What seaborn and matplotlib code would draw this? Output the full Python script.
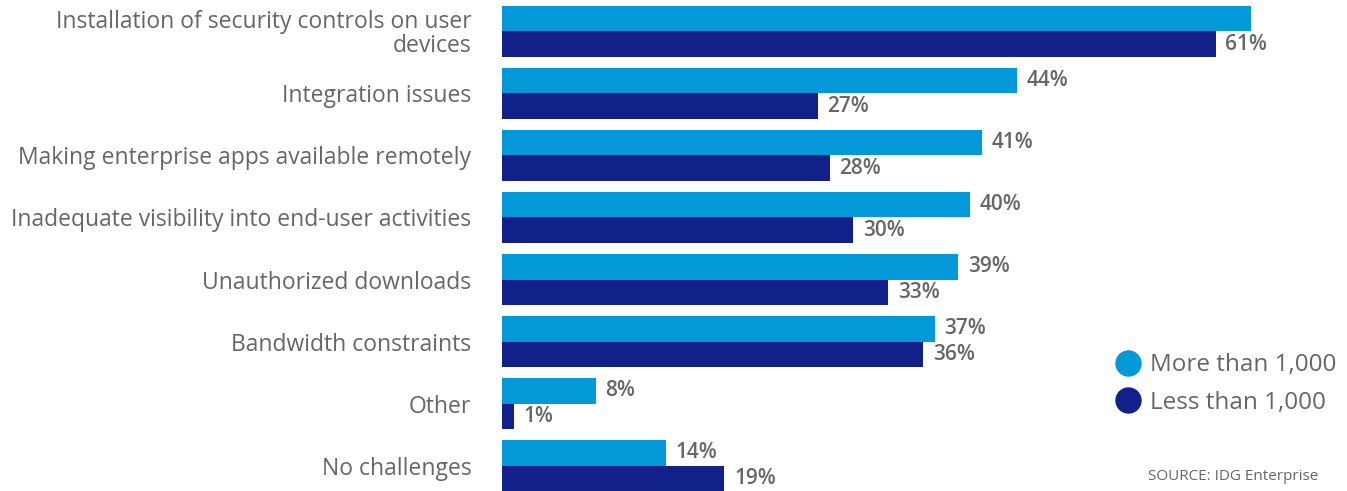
import pandas as pd
import seaborn as sns
import matplotlib.pyplot as plt
from matplotlib.lines import Line2D

# Dados do gráfico
categories = [
    'Installation of security controls on user\ndevices',
    'Integration issues',
    'Making enterprise apps available remotely',
    'Inadequate visibility into end-user activities',
    'Unauthorized downloads',
    'Bandwidth constraints',
    'Other',
    'No challenges',
]
more_than_1000 = [64, 44, 41, 40, 39, 37, 8, 14]
less_than_1000 = [61, 27, 28, 30, 33, 36, 1, 19]
series_names = ['More than 1,000', 'Less than 1,000']
# o primeiro rótulo da série clara não aparece na imagem
more_labels = ['', '44%', '41%', '40%', '39%', '37%', '8%', '14%']
less_labels = [f'{v}%' for v in less_than_1000]

light = '#0398D8'
dark = '#12208A'
grey = '#666666'

df = pd.DataFrame({
    'category': categories * 2,
    'value': more_than_1000 + less_than_1000,
    'series': [series_names[0]] * len(categories) + [series_names[1]] * len(categories),
})

sns.set_style('white')
plt.rcParams['font.family'] = ['Open Sans', 'DejaVu Sans']

fig = plt.figure(figsize=(13.47, 4.91), dpi=100)
ax = fig.add_axes([502 / 1347, 0.0, 1 - 502 / 1347, 1 - 6 / 491])

sns.barplot(data=df, y='category', x='value', hue='series', hue_order=series_names,
            palette=[light, dark], orient='h', width=0.82, ax=ax, legend=False,
            saturation=1, linewidth=0)

ax.set_xlim(0, 845 / 11.7)
ax.set_ylim(7.41, -0.41)
ax.set_xlabel('')
ax.set_ylabel('')
ax.set_xticks([])
sns.despine(ax=ax, left=True, bottom=True, top=True, right=True)

ax.tick_params(axis='y', length=0, pad=22, labelsize=16.5, labelcolor=grey)
for lbl in ax.get_yticklabels():
    lbl.set_multialignment('right')
    lbl.set_linespacing(1.0)

for cont, labels in zip(ax.containers, [more_labels, less_labels]):
    ax.bar_label(cont, labels=labels, padding=7, fontsize=15, fontweight='semibold',
                 color=grey)

handles = [Line2D([0], [0], marker='o', linestyle='', markersize=18,
                  markerfacecolor=c, markeredgecolor=c) for c in (light, dark)]
fig.legend(handles, series_names, loc='center left', bbox_to_anchor=(1101 / 1347, 1 - 384 / 491),
           frameon=False, fontsize=17.5, labelcolor=grey, handletextpad=0.3,
           labelspacing=0.55, borderpad=0, handlelength=1.2)

fig.text(1318 / 1347, 1 - 476 / 491, 'SOURCE: IDG Enterprise', ha='right', va='center',
         fontsize=11, color=grey)

fig.savefig('out.png', dpi=100)
